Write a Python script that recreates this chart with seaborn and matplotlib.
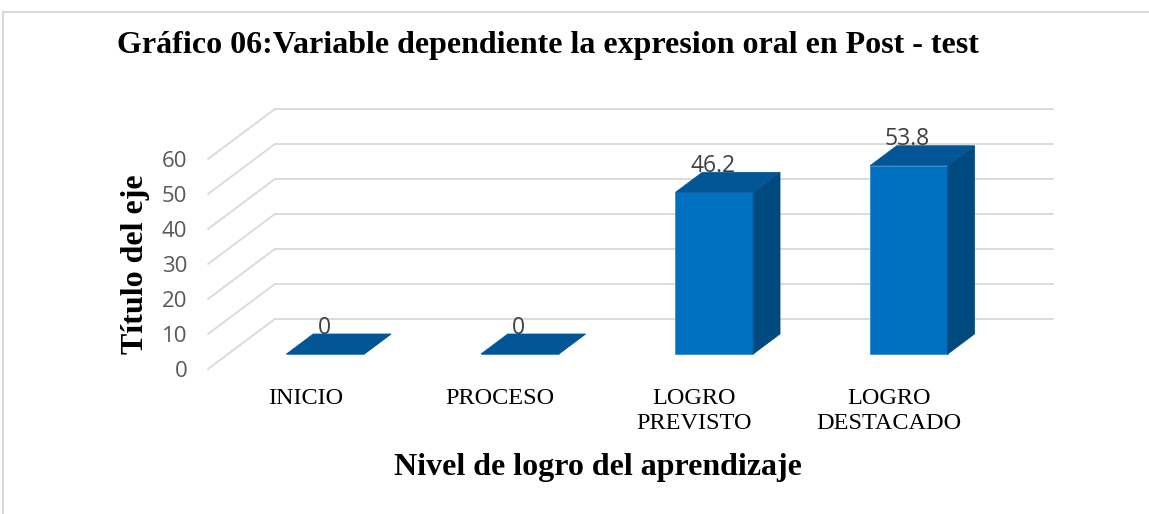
import matplotlib.pyplot as plt
import seaborn as sns
import pandas as pd
from matplotlib.patches import Polygon, Rectangle

# datos del gráfico
categories = ["INICIO", "PROCESO", "LOGRO\nPREVISTO", "LOGRO\nDESTACADO"]
percentages = [0, 0, 46.2, 53.8]
y_ticks = [0, 10, 20, 30, 40, 50, 60]

title = "Gráfico 06:Variable dependiente la expresion oral en Post - test"
x_title = "Nivel de logro del aprendizaje"
y_title = "Título del eje"

# colores estilo Excel
FRONT_COLOR = "#0070C0"
TOP_COLOR = "#025695"
SIDE_COLOR = "#014A80"
GRID_COLOR = "#D9D9D9"

# efecto 3D (profundidad en unidades de datos)
DEPTH_X = 0.344
DEPTH_Y = 14.3
BAR_FRONT = 0.3
BAR_BACK = 0.7
BAR_WIDTH = 0.4

W, H = 1149, 514

sns.set_theme(style="white")
plt.rcParams["font.family"] = ["Open Sans", "DejaVu Sans"]
serif = ["Liberation Serif", "DejaVu Serif"]

fig = plt.figure(figsize=(W / 100, H / 100), dpi=100)
ax = fig.add_axes([208 / W, 1 - 369 / H, 845 / W, 260 / H])

df = pd.DataFrame({"nivel": categories, "pct": percentages})
sns.barplot(data=df, x="nivel", y="pct", color=FRONT_COLOR, width=BAR_WIDTH,
            saturation=1, errorbar=None, ax=ax, zorder=3,
            edgecolor="#3A8FD0", linewidth=0.6)

x_left, x_right = -0.5, len(categories) - 0.5

# líneas de división: pared del fondo y pared lateral
for v in y_ticks:
    ax.plot([x_left + DEPTH_X, x_right + DEPTH_X], [v + DEPTH_Y] * 2,
            color=GRID_COLOR, lw=1.3, zorder=0, clip_on=False)
    ax.plot([x_left, x_left + DEPTH_X], [v, v + DEPTH_Y],
            color=GRID_COLOR, lw=1.3, zorder=0, clip_on=False)

# caras superior y lateral de cada barra
dx0, dy0 = BAR_FRONT * DEPTH_X, BAR_FRONT * DEPTH_Y
ddx = (BAR_BACK - BAR_FRONT) * DEPTH_X
ddy = (BAR_BACK - BAR_FRONT) * DEPTH_Y
for bar, val in zip(ax.patches, percentages):
    x0 = bar.get_x() + dx0
    bar.set_x(x0)
    bar.set_y(dy0)
    w = bar.get_width()
    x1 = x0 + w
    yt = dy0 + bar.get_height()
    top = Polygon([(x0, yt), (x1, yt), (x1 + ddx, yt + ddy), (x0 + ddx, yt + ddy)],
                  closed=True, facecolor=TOP_COLOR, edgecolor=TOP_COLOR, lw=0.5, zorder=3)
    side = Polygon([(x1, dy0), (x1 + ddx, dy0 + ddy), (x1 + ddx, yt + ddy), (x1, yt)],
                   closed=True, facecolor=SIDE_COLOR, edgecolor=SIDE_COLOR, lw=0.5, zorder=3)
    ax.add_patch(side)
    ax.add_patch(top)
    ax.annotate(f"{val:g}", (x0 + w / 2, yt), xytext=(-1, 19), textcoords="offset points",
                ha="center", va="center", fontsize=16.5, color="#404040", zorder=4)

ax.set_xlim(x_left, x_right + DEPTH_X)
ax.set_ylim(0, y_ticks[-1] + DEPTH_Y)
ax.set_yticks(y_ticks)
ax.set_xticks(range(len(categories)))
ax.set_xticklabels(categories, family=serif, fontsize=17.5, color="black", linespacing=1.25)
ax.tick_params(axis="y", length=0, pad=15, labelsize=16, labelcolor="#595959")
ax.tick_params(axis="x", length=0, pad=14)
ax.set_xlabel("")
ax.set_ylabel("")
for s in ax.spines.values():
    s.set_visible(False)
ax.patch.set_alpha(0)

# marco del gráfico
fig.patches.append(Rectangle((3 / W, -0.1), 1.2, 1 - 12 / H + 0.1, transform=fig.transFigure,
                             fill=False, edgecolor=GRID_COLOR, lw=1.5))

fig.text(117 / W, 1 - 46 / H, title, family=serif, weight="bold", fontsize=23,
         color="black", ha="left", va="center")
fig.text(598 / W, 1 - 467 / H, x_title, family=serif, weight="bold", fontsize=23,
         color="black", ha="center", va="center")
fig.text(136 / W, 1 - 264 / H, y_title, family=serif, weight="bold", fontsize=23,
         color="black", ha="center", va="center", rotation=90)

fig.savefig("out.png", dpi=100)
